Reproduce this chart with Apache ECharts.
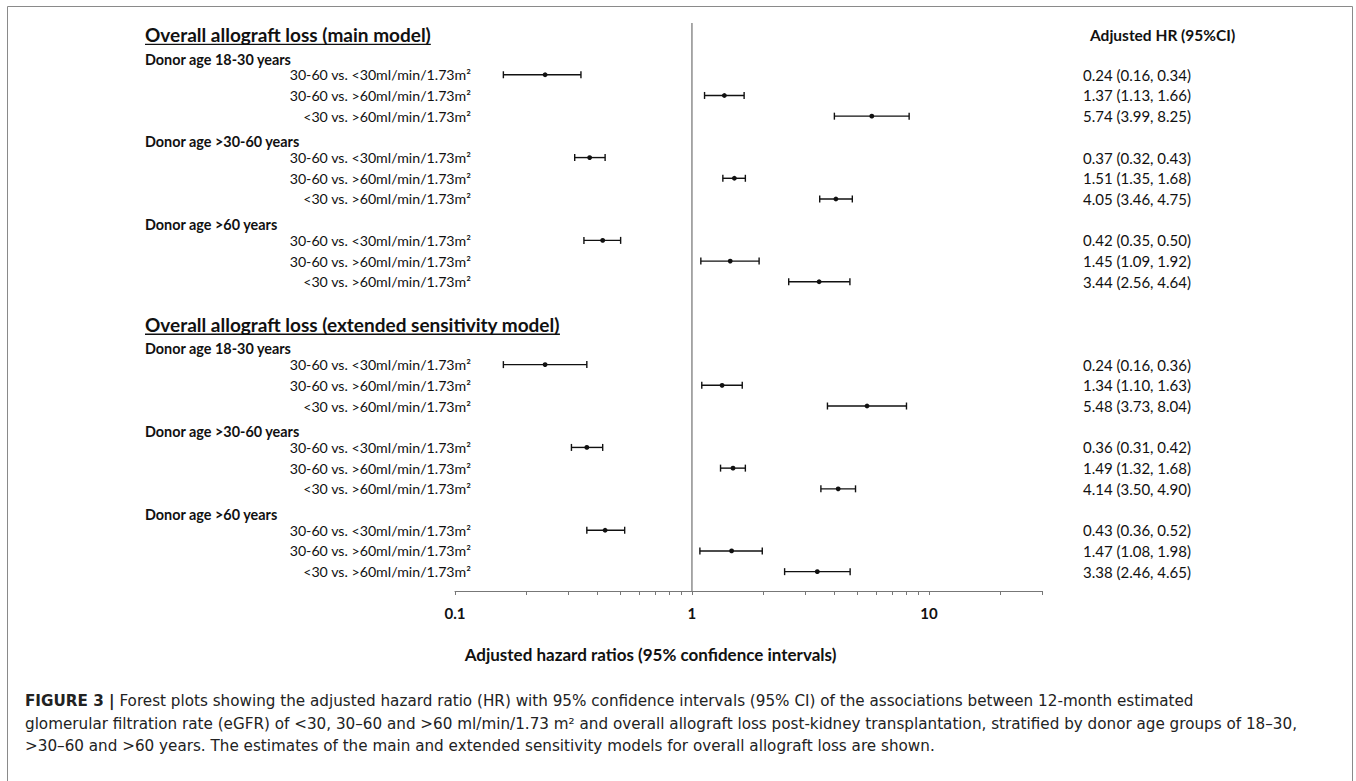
<!DOCTYPE html>
<html><head><meta charset="utf-8">
<script src="https://cdn.jsdelivr.net/npm/echarts@6/dist/echarts.min.js"></script>
<style>html,body{margin:0;padding:0;background:#fff}#c{width:1356px;height:781px}</style>
</head><body><div id="c"></div>
<script>
// ---------------- DATA ----------------
const sections = ['Overall allograft loss (main model)', 'Overall allograft loss (extended sensitivity model)'];
const donorGroups = ['Donor age 18-30 years', 'Donor age >30-60 years', 'Donor age >60 years'];
const comparisons = ['30-60 vs. <30ml/min/1.73m\u00B2', '30-60 vs. >60ml/min/1.73m\u00B2', '<30 vs. >60ml/min/1.73m\u00B2'];

const mainHR = [0.24, 1.37, 5.74, 0.37, 1.51, 4.05, 0.42, 1.45, 3.44];
const mainLo = [0.16, 1.13, 3.99, 0.32, 1.35, 3.46, 0.35, 1.09, 2.56];
const mainHi = [0.34, 1.66, 8.25, 0.43, 1.68, 4.75, 0.50, 1.92, 4.64];

const extHR = [0.24, 1.34, 5.48, 0.36, 1.49, 4.14, 0.43, 1.47, 3.38];
const extLo = [0.16, 1.10, 3.73, 0.31, 1.32, 3.50, 0.36, 1.08, 2.46];
const extHi = [0.36, 1.63, 8.04, 0.42, 1.68, 4.90, 0.52, 1.98, 4.65];

const xMin = 0.1, xMax = 30, refValue = 1;
const xTickValues = [0.1, 0.2, 0.3, 0.4, 0.5, 0.6, 0.7, 0.8, 0.9, 1, 2, 3, 4, 5, 6, 7, 8, 9, 10, 20, 30];
const xLabelValues = [0.1, 1, 10];
const xLabelText = ['0.1', '1', '10'];

const valueHeader = 'Adjusted HR (95%CI)';
const axisTitle = 'Adjusted hazard ratios (95% confidence intervals)';
const captionBold = 'FIGURE 3 |';
const captionLines = [
  ' Forest plots showing the adjusted hazard ratio (HR) with 95% confidence intervals (95% CI) of the associations between 12-month estimated',
  'glomerular filtration rate (eGFR) of <30, 30\u201360 and >60 ml/min/1.73 m\u00B2 and overall allograft loss post-kidney transplantation, stratified by donor age groups of 18\u201330,',
  '>30\u201360 and >60 years. The estimates of the main and extended sensitivity models for overall allograft loss are shown.'
];

// ---------------- BUILD ROWS ----------------
const models = [[mainHR, mainLo, mainHi], [extHR, extLo, extHi]];
const rows = [];
sections.forEach((s, si) => {
  if (si > 0) rows.push({type: 'blank', text: ''});
  rows.push({type: 'section', text: s});
  const [hr, lo, hi] = models[si];
  donorGroups.forEach((g, gi) => {
    rows.push({type: 'group', text: g});
    comparisons.forEach((c, ci) => {
      const k = gi * comparisons.length + ci;
      rows.push({type: 'comp', text: c, hr: hr[k], lo: lo[k], hi: hi[k]});
    });
  });
});
const catKeys = rows.map((r, i) => 'row' + i);
const errData = [];
const sectionData = [];
const sectionText = [];
rows.forEach((r, i) => {
  if (r.type === 'comp') errData.push([r.hr, i, r.lo, r.hi]);
  if (r.type === 'section') { sectionData.push([xMin, i]); sectionText.push(r.text); }
});

const FONT = 'Lato';
const AXIS_OFFSET = 9;
const measureCtx = document.createElement('canvas').getContext('2d');
function textWidth(t, font) { measureCtx.font = font; return measureCtx.measureText(t).width; }
const sectionFont = 'bold 19px ' + FONT;
const CAP_FONT = 'DejaVu Sans', CAP_SIZE = 15.2;

try {
const chart = echarts.init(document.getElementById('c'), null, {renderer: 'svg'});
chart.setOption({
  backgroundColor: '#ffffff',
  animation: false,
  grid: {left: 455, right: 314, top: 23, bottom: 199, containLabel: false},
  xAxis: {
    type: 'log', logBase: 10, min: xMin, max: xMax, offset: AXIS_OFFSET,
    axisLine: {show: true, lineStyle: {color: '#777', width: 1}},
    axisTick: {show: true, customValues: xTickValues, length: 4, lineStyle: {color: '#777', width: 1}},
    minorTick: {show: false},
    axisLabel: {
      customValues: xLabelValues, margin: 14,
      fontFamily: FONT, fontSize: 15, fontWeight: 'bold', color: '#111',
      formatter: v => { const k = xLabelValues.findIndex(x => Math.abs(x - v) < 1e-9 * Math.max(1, x)); return k >= 0 ? xLabelText[k] : ''; }
    },
    splitLine: {show: false},
    name: axisTitle, nameLocation: 'middle', nameGap: 55,
    nameTextStyle: {fontFamily: FONT, fontSize: 17, fontWeight: 'bold', color: '#111', padding: [0, 196, 0, 0]}
  },
  yAxis: [{
    type: 'category', data: catKeys, inverse: true,
    axisLine: {show: false}, axisTick: {show: false}, splitLine: {show: false},
    axisLabel: {
      interval: 0, margin: -16, align: 'right',
      formatter: (v, i) => {
        const r = rows[i];
        if (r.type === 'comp') return '{c|' + r.text + '}';
        if (r.type === 'group') return '{g|' + r.text + '}';
        return '';
      },
      rich: {
        c: {fontFamily: FONT, fontSize: 14.2, color: '#111'},
        g: {fontFamily: FONT, fontSize: 14.4, fontWeight: 'bold', color: '#111', width: 326, align: 'left', padding: [10, 0, 0, 0]}
      }
    }
  }, {
    type: 'category', data: catKeys, inverse: true, position: 'right',
    axisLine: {show: false}, axisTick: {show: false}, splitLine: {show: false},
    axisLabel: {
      interval: 0, margin: 41, align: 'left',
      formatter: (v, i) => {
        const r = rows[i];
        if (r.type === 'comp') return '{v|' + r.hr.toFixed(2) + ' (' + r.lo.toFixed(2) + ', ' + r.hi.toFixed(2) + ')}';
        if (i === 0) return '{h|' + valueHeader + '}';
        return '';
      },
      rich: {
        v: {fontFamily: FONT, fontSize: 15, color: '#111'},
        h: {fontFamily: FONT, fontSize: 15.5, fontWeight: 'bold', color: '#111', padding: [4, 0, 0, 7]}
      }
    }
  }],
  series: [{
    type: 'custom', name: 'reference', xAxisIndex: 0, yAxisIndex: 0,
    encode: {x: 0, y: 1},
    data: [[refValue, 0]],
    renderItem: (params, api) => {
      const cs = params.coordSys;
      const p = api.coord([api.value(0), api.value(1)]);
      return {type: 'line', shape: {x1: p[0], y1: cs.y, x2: p[0], y2: cs.y + cs.height + AXIS_OFFSET},
        style: {stroke: '#555', lineWidth: 1}};
    }
  }, {
    type: 'custom', name: 'HR', xAxisIndex: 0, yAxisIndex: 0,
    encode: {x: 0, y: 1},
    data: errData,
    renderItem: (params, api) => {
      const yi = api.value(1);
      const p = api.coord([api.value(0), yi]);
      const a = api.coord([api.value(2), yi]);
      const b = api.coord([api.value(3), yi]);
      const cap = 3.5;
      const st = {stroke: '#111', lineWidth: 1.4, fill: 'none'};
      return {type: 'group', children: [
        {type: 'line', shape: {x1: a[0], y1: a[1], x2: b[0], y2: b[1]}, style: st},
        {type: 'line', shape: {x1: a[0], y1: a[1] - cap, x2: a[0], y2: a[1] + cap}, style: st},
        {type: 'line', shape: {x1: b[0], y1: b[1] - cap, x2: b[0], y2: b[1] + cap}, style: st},
        {type: 'circle', shape: {cx: p[0], cy: p[1], r: 2.4}, style: {fill: '#111'}}
      ]};
    }
  }, {
    type: 'custom', name: 'sections', xAxisIndex: 0, yAxisIndex: 0,
    encode: {x: 0, y: 1},
    data: sectionData,
    renderItem: (params, api) => {
      const p = api.coord([api.value(0), api.value(1)]);
      const t = sectionText[params.dataIndex];
      const x = p[0] - 310, y = p[1] + 1;
      const w = textWidth(t, sectionFont);
      return {type: 'group', children: [
        {type: 'text', style: {text: t, x: x, y: y, font: sectionFont, fill: '#111', align: 'left', verticalAlign: 'middle'}},
        {type: 'line', shape: {x1: x, y1: y + 10, x2: x + w, y2: y + 10}, style: {stroke: '#111', lineWidth: 1.4}}
      ]};
    }
  }],
  graphic: [
    {type: 'rect', silent: true, shape: {x: 7.5, y: 6.5, width: 1345, height: 800}, style: {fill: 'none', stroke: '#8a8a8a', lineWidth: 1}},
    {type: 'text', silent: true, x: 25, y: 701, style: {
      text: '{b|' + captionBold + '}{r|' + captionLines[0] + '}',
      verticalAlign: 'middle',
      rich: {
        b: {fontFamily: CAP_FONT, fontSize: CAP_SIZE, fontWeight: 'bold', fill: '#222'},
        r: {fontFamily: CAP_FONT, fontSize: CAP_SIZE, fill: '#222'}
      }
    }},
    {type: 'text', silent: true, x: 25, y: 723.5, style: {text: captionLines[1], verticalAlign: 'middle', font: CAP_SIZE + 'px "' + CAP_FONT + '"', fill: '#222'}},
    {type: 'text', silent: true, x: 25, y: 746, style: {text: captionLines[2], verticalAlign: 'middle', font: CAP_SIZE + 'px "' + CAP_FONT + '"', fill: '#222'}}
  ]
});
} catch (e) { console.error(e && e.stack ? e.stack : String(e)); }
</script>
</body></html>
